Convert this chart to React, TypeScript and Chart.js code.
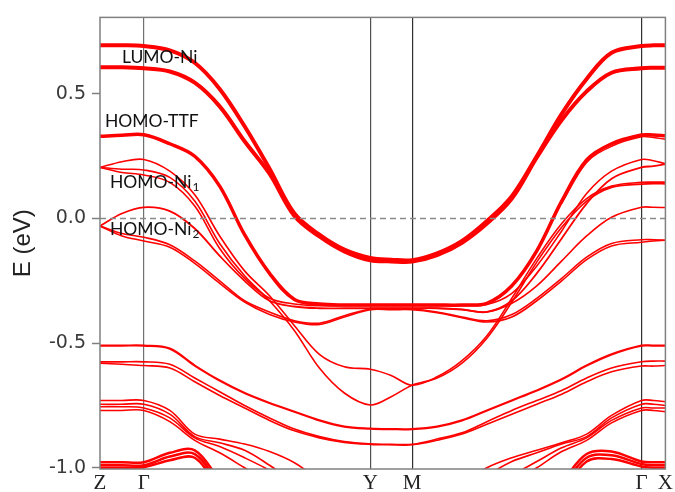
import React, { useEffect, useRef } from "react";
import { Chart, registerables } from "chart.js";

Chart.register(...registerables);

// k-path grid (arbitrary units along Z-Γ-Y-M-Γ-X)
const kGrid = [0, 0.22, 0.44, 0.7, 0.95, 1.2, 1.45, 1.7, 1.95, 2.2, 2.45, 2.71, 2.92, 3.13, 3.38, 3.63, 3.88, 4.13, 4.38, 4.63, 4.88, 5.13, 5.43, 5.55, 5.67];
const kTicks = [0, 0.44, 2.71, 3.13, 5.43, 5.67];
const kLabels = ["Z", "Γ", "Y", "M", "Γ", "X"];
const eTicks = [-1.0, -0.5, 0.0, 0.5];
const eRange = [-1.005, 0.807];
const fermiLine = [0, 0];

// band energies (eV) at kGrid
const lumoA = [0.695, 0.695, 0.692, 0.675, 0.625, 0.52, 0.37, 0.2, 0.02, -0.065, -0.125, -0.158, -0.165, -0.167, -0.14, -0.09, -0.01, 0.09, 0.25, 0.42, 0.56, 0.665, 0.692, 0.695, 0.695];
const lumoB = [0.607, 0.607, 0.603, 0.59, 0.545, 0.45, 0.31, 0.18, 0.01, -0.072, -0.132, -0.168, -0.172, -0.173, -0.147, -0.097, -0.02, 0.08, 0.245, 0.395, 0.51, 0.585, 0.603, 0.605, 0.605];
const homoTTF = [0.33, 0.334, 0.336, 0.3, 0.25, 0.13, -0.065, -0.22, -0.325, -0.343, -0.347, -0.347, -0.347, -0.347, -0.347, -0.347, -0.34, -0.27, -0.13, 0.07, 0.235, 0.3, 0.335, 0.335, 0.332];
const homoTTF2 = [null, null, null, null, null, null, null, null, null, null, null, null, null, null, null, null, null, null, null, 0.06, 0.225, 0.29, 0.328, 0.325, 0.318];
const ni1a = [0.205, 0.228, 0.237, 0.19, 0.095, -0.07, -0.21, -0.31, -0.43, -0.545, -0.595, -0.605, -0.63, -0.669, -0.635, -0.57, -0.47, -0.32, -0.16, -0.02, 0.08, 0.13, 0.145, 0.146, 0.146];
const ni1b = [0.205, 0.198, 0.195, 0.165, 0.07, -0.1, -0.23, -0.33, -0.45, -0.6, -0.7, -0.748, -0.715, -0.669, -0.64, -0.58, -0.48, -0.335, -0.175, -0.035, 0.07, 0.125, 0.138, 0.14, 0.139];
const ni1c = [0.205, 0.185, 0.175, 0.145, 0.05, -0.12, -0.24, -0.32, -0.343, -0.35, -0.35, -0.35, -0.35, -0.35, -0.35, -0.35, -0.345, -0.3, -0.19, -0.05, 0.1, 0.19, 0.237, 0.232, 0.22];
const ni2a = [-0.03, 0.02, 0.045, 0.03, -0.04, -0.15, -0.25, -0.33, -0.353, -0.36, -0.36, -0.36, -0.36, -0.36, -0.36, -0.365, -0.375, -0.33, -0.22, -0.08, 0.06, 0.16, 0.205, 0.21, 0.218];
const ni2c = [null, null, null, null, null, null, null, null, null, null, null, -0.36, -0.36, -0.36, -0.36, -0.365, -0.375, -0.34, -0.27, -0.17, -0.07, 0.005, 0.045, 0.045, 0.044];
const ni2b = [-0.03, -0.06, -0.075, -0.105, -0.17, -0.25, -0.33, -0.375, -0.41, -0.42, -0.39, -0.363, -0.363, -0.363, -0.375, -0.395, -0.41, -0.385, -0.32, -0.24, -0.155, -0.1, -0.085, -0.085, -0.087];
const ni2b2 = [-0.03, -0.07, -0.09, -0.115, -0.18, -0.26, -0.335, -0.385, -0.415, -0.425, -0.395, -0.366, -0.366, -0.366, -0.378, -0.398, -0.415, -0.395, -0.33, -0.25, -0.165, -0.11, -0.095, -0.09, -0.087];
const band5 = [-0.51, -0.51, -0.51, -0.522, -0.59, -0.65, -0.7, -0.74, -0.775, -0.81, -0.835, -0.843, -0.845, -0.845, -0.835, -0.81, -0.77, -0.73, -0.69, -0.645, -0.59, -0.545, -0.51, -0.51, -0.51];
const band6a = [-0.575, -0.575, -0.575, -0.585, -0.64, -0.695, -0.75, -0.8, -0.845, -0.875, -0.895, -0.904, -0.906, -0.906, -0.885, -0.86, -0.815, -0.77, -0.73, -0.69, -0.64, -0.6, -0.575, -0.572, -0.572];
const band6b = [-0.58, -0.585, -0.59, -0.6, -0.655, -0.71, -0.76, -0.81, -0.852, -0.88, -0.898, -0.906, -0.908, -0.908, -0.89, -0.865, -0.825, -0.785, -0.745, -0.705, -0.655, -0.615, -0.592, -0.592, -0.59];
const band7a = [-0.73, -0.73, -0.73, -0.77, -0.865, -0.885, -0.905, -0.935, -0.98, -1.05, null, null, null, null, null, -1.06, -1.0, -0.96, -0.93, -0.9, -0.865, -0.79, -0.73, -0.73, -0.735];
const band7b = [-0.745, -0.745, -0.745, -0.785, -0.875, -0.9, -0.93, -0.99, -1.06, null, null, null, null, null, null, -1.08, -1.03, -0.975, -0.94, -0.905, -0.875, -0.8, -0.745, -0.745, -0.75];
const band7c = [-0.755, -0.755, -0.76, -0.8, -0.88, -0.915, -0.96, -1.01, -1.07, null, null, null, null, null, null, null, -1.08, -1.03, -0.975, -0.92, -0.88, -0.81, -0.76, -0.76, -0.76];
const band7d = [-0.77, -0.77, -0.77, -0.815, -0.89, -0.94, -1.0, -1.06, null, null, null, null, null, null, null, null, null, -1.06, -1.0, -0.935, -0.89, -0.82, -0.77, -0.77, -0.775];
const band8a = [-0.978, -0.978, -0.978, -0.94, -0.93, -1.05, null, null, null, null, null, null, null, null, null, null, null, null, null, -1.06, -0.945, -0.935, -0.975, -0.978, -0.978];
const band8b = [-0.99, -0.99, -0.99, -0.955, -0.945, -1.07, null, null, null, null, null, null, null, null, null, null, null, null, null, -1.08, -0.96, -0.95, -0.985, -0.99, -0.99];
const band8c = [-1.0, -1.0, -0.998, -0.97, -0.96, -1.09, null, null, null, null, null, null, null, null, null, null, null, null, null, -1.1, -0.975, -0.965, -0.995, -1.0, -1.0];

const bandLabels = ["LUMO-Ni", "HOMO-TTF", "HOMO-Ni", "HOMO-Ni"];
const bandLabelSubs = ["", "", "1", "2"];

export default function App() {
  const ref = useRef<HTMLCanvasElement>(null);

  useEffect(() => {
    if (!ref.current) return;
    const bands: [Array<number | null>, number][] = [
      [lumoA, 4], [lumoB, 4], [homoTTF, 3.5], [homoTTF2, 1.4],
      [ni1a, 1.6], [ni1b, 1.6], [ni1c, 1.6], [ni2a, 1.8], [ni2c, 1.6], [ni2b, 1.6], [ni2b2, 1.6],
      [band5, 2.2], [band6a, 1.6], [band6b, 1.6],
      [band7a, 1.6], [band7b, 1.6], [band7c, 1.6], [band7d, 1.6],
      [band8a, 2.5], [band8b, 2.5], [band8c, 2.5],
    ];
    const datasets: any[] = bands.map(([arr, w]) => ({
      data: kGrid.map((k, i) => ({ x: k, y: arr[i] })),
      borderColor: "#ff0000",
      borderWidth: w,
      pointRadius: 0,
      fill: false,
      tension: 0.35,
      spanGaps: false,
    }));
    datasets.unshift({
      data: [
        { x: kTicks[0], y: fermiLine[0] },
        { x: kTicks[kTicks.length - 1], y: fermiLine[1] },
      ],
      borderColor: "#8a8a8a",
      borderWidth: 1.6,
      borderDash: [6, 4],
      pointRadius: 0,
      fill: false,
    });

    const labelPos = [
      { k: 0.22, e: 0.648 },
      { k: 0.05, e: 0.39 },
      { k: 0.1, e: 0.146 },
      { k: 0.1, e: -0.044 },
    ];
    const vlineColors = ["rgba(0,0,0,0)", "#707070", "#505050", "#303030", "#303030", "rgba(0,0,0,0)"];

    const overlay = {
      id: "overlay",
      afterDatasetsDraw(chart: any) {
        const { ctx, chartArea: a, scales } = chart;
        ctx.save();
        ctx.strokeStyle = "#808080";
        ctx.lineWidth = 1.5;
        ctx.strokeRect(a.left, a.top, a.right - a.left, a.bottom - a.top);
        ctx.fillStyle = "#111";
        ctx.textBaseline = "middle";
        ctx.textAlign = "left";
        bandLabels.forEach((t, i) => {
          const x = scales.x.getPixelForValue(labelPos[i].k);
          const y = scales.y.getPixelForValue(labelPos[i].e);
          ctx.font = "17.5px Lato, 'Open Sans', sans-serif";
          ctx.fillText(t, x, y);
          if (bandLabelSubs[i]) {
            const w = ctx.measureText(t).width;
            ctx.font = "12px Lato, 'Open Sans', sans-serif";
            ctx.fillText(bandLabelSubs[i], x + w + 1, y + 5);
          }
        });
        ctx.restore();
      },
    };

    const chart = new Chart(ref.current, {
      type: "line",
      data: { datasets },
      options: {
        animation: false,
        responsive: false,
        devicePixelRatio: 1,
        layout: { padding: { top: 11, right: 8, left: 0, bottom: 0 } },
        plugins: { legend: { display: false }, tooltip: { enabled: false } },
        scales: {
          x: {
            type: "linear",
            min: kTicks[0],
            max: kTicks[kTicks.length - 1],
            afterBuildTicks: (s: any) => {
              s.ticks = kTicks.map((v) => ({ value: v }));
            },
            afterFit: (s: any) => {
              s.height = 23;
            },
            ticks: {
              autoSkip: false,
              maxRotation: 0,
              padding: 2,
              color: "#222",
              font: { family: "'Liberation Serif', 'DejaVu Serif', serif", size: 21 },
              callback: (_v: any, i: number) => kLabels[i],
            },
            grid: {
              drawTicks: false,
              lineWidth: 1.2,
              color: (c: any) => vlineColors[c.index] ?? "rgba(0,0,0,0)",
            },
            border: { display: false },
          },
          y: {
            type: "linear",
            min: eRange[0],
            max: eRange[1],
            afterBuildTicks: (s: any) => {
              s.ticks = eTicks.map((v) => ({ value: v }));
            },
            afterFit: (s: any) => {
              s.width = 100;
            },
            ticks: {
              padding: 6,
              color: "#3a3a3a",
              font: { family: "'DejaVu Sans', sans-serif", size: 19 },
              callback: (v: any) => Number(v).toFixed(1),
            },
            grid: {
              drawOnChartArea: false,
              drawTicks: true,
              tickLength: 8,
              tickWidth: 1.5,
              tickColor: "#808080",
            },
            border: { display: false },
            title: {
              display: true,
              text: "E (eV)",
              color: "#222",
              padding: { top: 9, bottom: 0 },
              font: { family: "'Liberation Sans', Arial, sans-serif", size: 24 },
            },
          },
        },
      },
      plugins: [overlay],
    } as any);
    return () => chart.destroy();
  }, []);

  return (
    <div style={{ position: "fixed", left: 0, top: 0, width: 675, height: 492, background: "#fff" }}>
      <canvas ref={ref} width={675} height={492} style={{ width: 675, height: 492 }} />
    </div>
  );
}
